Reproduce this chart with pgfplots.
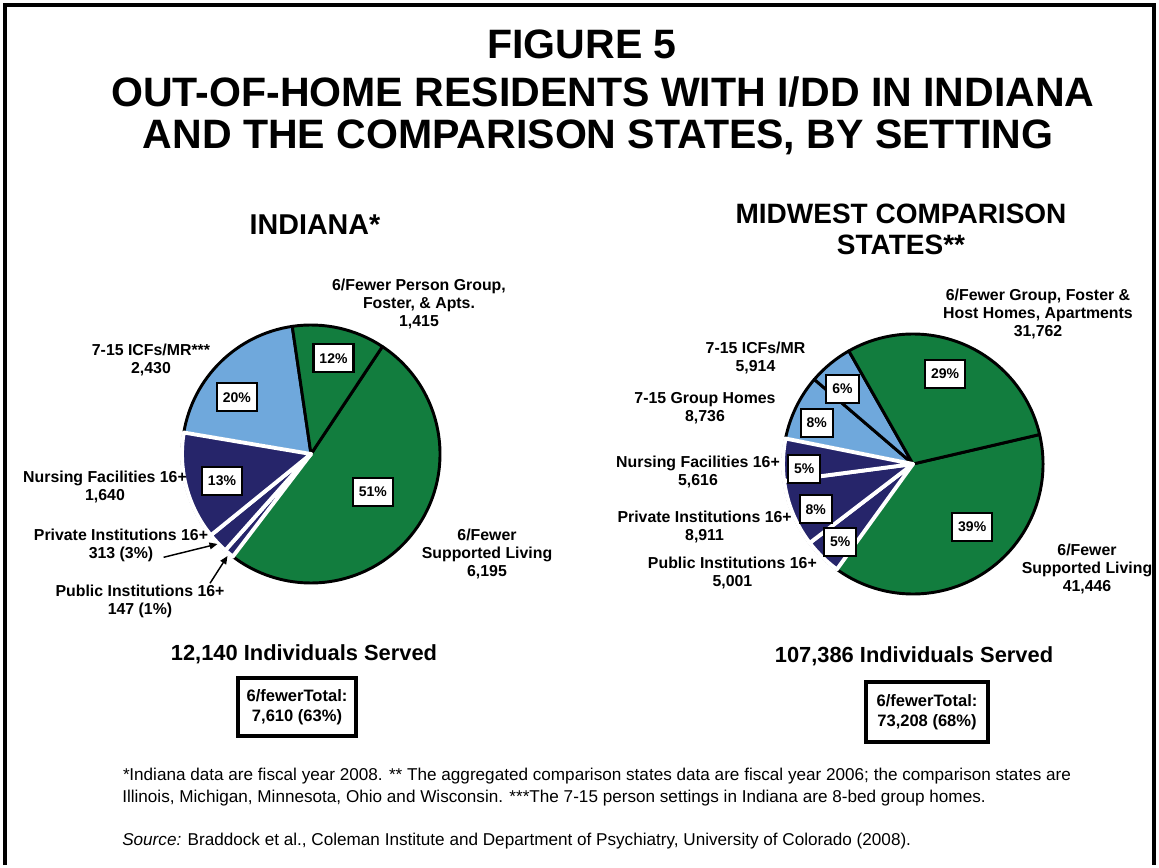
\documentclass[border=0pt]{standalone}
\usepackage{fontspec}
\setmainfont{Liberation Sans}
\usepackage{pgfplots}
\usepackage{pgfplotstable}
\pgfplotsset{compat=1.18}
\usetikzlibrary{arrows.meta}

\definecolor{sgreen}{RGB}{18,125,62}
\definecolor{sblue}{RGB}{111,168,220}
\definecolor{snavy}{RGB}{38,37,106}

\tikzset{
  lab/.style={font=\fontsize{11.9pt}{13.5pt}\selectfont\bfseries, align=center},
  pct/.style={draw, fill=white, line width=1.6pt, font=\fontsize{10.5pt}{12pt}\selectfont\bfseries,
      minimum height=21pt, inner xsep=4.5pt, inner ysep=0pt},
}

% slices in clockwise order; white=1 means a white edge drawn on top
\pgfplotstableread{
value fill white
6195 sgreen 0
147 snavy 1
313 snavy 1
1640 snavy 1
2430 sblue 0
1415 sgreen 0
}\indiana

\pgfplotstableread{
value fill white
41446 sgreen 0
5001 snavy 1
8911 snavy 1
5616 snavy 1
8736 sblue 0
5914 sblue 0
31762 sgreen 0
}\midwest

% #1 table, #2 cx, #3 cy, #4 radius (px), #5 start angle, #6 pass
\newcommand\drawpie[6]{%
  \pgfplotstablegetrowsof{#1}%
  \pgfmathtruncatemacro\nrows{\pgfplotsretval-1}%
  \xdef\pietot{0}%
  \foreach \i in {0,...,\nrows}{%
    \pgfplotstablegetelem{\i}{value}\of#1%
    \xdef\pietot{\fpeval{\pietot+\pgfplotsretval}}}%
  \xdef\piecum{0}%
  \foreach \i in {0,...,\nrows}{%
    \pgfplotstablegetelem{\i}{value}\of#1\let\pieval\pgfplotsretval
    \pgfplotstablegetelem{\i}{fill}\of#1\let\piefc\pgfplotsretval
    \pgfplotstablegetelem{\i}{white}\of#1\let\piewh\pgfplotsretval
    \edef\pa{\fpeval{round(#5-360*\piecum/\pietot,4)}}%
    \xdef\piecum{\fpeval{\piecum+\pieval}}%
    \edef\pb{\fpeval{round(#5-360*\piecum/\pietot,4)}}%
    \ifnum#6=0
      \filldraw[fill=\piefc, draw=black, line width=2.2pt, line join=round]
        (#2,#3) -- ++(\pa:#4*0.75pt) arc[start angle=\pa, end angle=\pb, radius=#4*0.75pt] -- cycle;
    \else
      \ifnum\piewh=1
        \filldraw[fill=\piefc, draw=white, line width=2.9pt, line join=round]
          (#2,#3) -- ++(\pa:#4*0.75pt) arc[start angle=\pa, end angle=\pb, radius=#4*0.75pt] -- cycle;
      \fi
    \fi}}

\begin{document}
\begin{tikzpicture}
\begin{axis}[
    width=869.25pt, height=648.75pt, scale only axis,
    xmin=0, xmax=1159, ymin=-865, ymax=0,
    hide axis, clip=false,
]
\path (0,-865) rectangle (1159,0);
\pgfplotsextra{
  \drawpie{\indiana}{311}{-454}{129}{56.4}{0}
  \drawpie{\indiana}{311}{-454}{129}{56.4}{1}
  \drawpie{\midwest}{913}{-464}{130}{13.1}{0}
  \drawpie{\midwest}{913}{-464}{130}{13.1}{1}
}

% frame
\draw[line width=3.2pt] (5,-865) -- (5,-5) -- (1154,-5) -- (1154,-865);

% titles
\begin{scope}[every node/.style={font=\fontsize{30.8pt}{34pt}\selectfont\bfseries}]
\node at (582,-44) {FIGURE 5};
\node at (603,-92) {OUT-OF-HOME RESIDENTS WITH I/DD IN INDIANA};
\node at (598,-137) {AND THE COMPARISON STATES, BY SETTING};
\end{scope}
\node[font=\fontsize{21.5pt}{23pt}\selectfont\bfseries] at (315,-225) {INDIANA*};
\node[font=\fontsize{21pt}{23.2pt}\selectfont\bfseries, align=center] at (901,-229.5) {MIDWEST COMPARISON\\STATES**};

% Indiana labels
\node[lab] at (419,-304) {6/Fewer Person Group,\\Foster, \& Apts.\\1,415};
\node[lab] at (151,-359.5) {7-15 ICFs/MR***\\2,430};
\node[lab] at (105,-486.5) {Nursing Facilities 16+\\1,640};
\node[lab] at (121,-545.5) {Private Institutions 16+\\313 (3\%)};
\node[lab] at (140,-601) {Public Institutions 16+\\147 (1\%)};
\node[lab] at (487,-553.7) {6/Fewer\\Supported Living\\6,195};
\draw[line width=1.1pt, -{Triangle[length=6pt,width=5pt]}] (163.6,-557.3) -- (217.5,-544);
\draw[line width=1.1pt, -{Triangle[length=6pt,width=5pt]}] (210,-583.3) -- (227.5,-556);

\node[pct] at (333.5,-358.3) {12\%};
\node[pct] at (236.8,-397.3) {20\%};
\node[pct] at (222,-480.7) {13\%};
\node[pct] at (372.9,-491.7) {51\%};

% Midwest labels
\node[lab] at (1038,-314.4) {6/Fewer Group, Foster \&\\Host Homes, Apartments\\31,762};
\node[lab] at (755.5,-358.3) {7-15 ICFs/MR\\5,914};
\node[lab] at (705,-408.3) {7-15 Group Homes\\8,736};
\node[lab] at (698,-472.3) {Nursing Facilities 16+\\5,616};
\node[lab] at (704.6,-526.7) {Private Institutions 16+\\8,911};
\node[lab] at (732.4,-572.5) {Public Institutions 16+\\5,001};
\node[lab] at (1087,-569.1) {6/Fewer\\Supported Living\\41,446};

\node[pct] at (945.1,-373.7) {29\%};
\node[pct] at (842.5,-389) {6\%};
\node[pct] at (816.8,-423) {8\%};
\node[pct] at (804.2,-469) {5\%};
\node[pct] at (815.7,-509.3) {8\%};
\node[pct] at (840.3,-541.7) {5\%};
\node[pct] at (972.2,-527) {39\%};

% totals
\node[font=\fontsize{16.4pt}{18pt}\selectfont\bfseries] at (304,-654) {12,140 Individuals Served};
\node[font=\fontsize{16.4pt}{18pt}\selectfont\bfseries] at (914,-656) {107,386 Individuals Served};
\node[draw, line width=3.4pt, align=center, minimum width=88.5pt, minimum height=43.5pt, inner sep=0pt,
      font=\fontsize{12.4pt}{15pt}\selectfont\bfseries] at (297,-707) {6/fewerTotal:\\7,610 (63\%)};
\node[draw, line width=3.4pt, align=center, minimum width=91.5pt, minimum height=45pt, inner sep=0pt,
      font=\fontsize{12.4pt}{15pt}\selectfont\bfseries] at (927,-712) {6/fewerTotal:\\73,208 (68\%)};

% notes
\begin{scope}[every node/.style={anchor=west, font=\fontsize{12.85pt}{14pt}\selectfont, inner sep=0pt}]
\node at (122,-776) {\textit{*}Indiana data are fiscal year 2008. ** The aggregated comparison states data are fiscal year 2006; the comparison states are};
\node at (122,-798) {Illinois, Michigan, Minnesota, Ohio and Wisconsin. ***The 7-15 person settings in Indiana are 8-bed group homes.};
\node at (122,-841) {\textit{Source:} Braddock et al., Coleman Institute and Department of Psychiatry, University of Colorado (2008).};
\end{scope}
\end{axis}
\end{tikzpicture}
\end{document}
